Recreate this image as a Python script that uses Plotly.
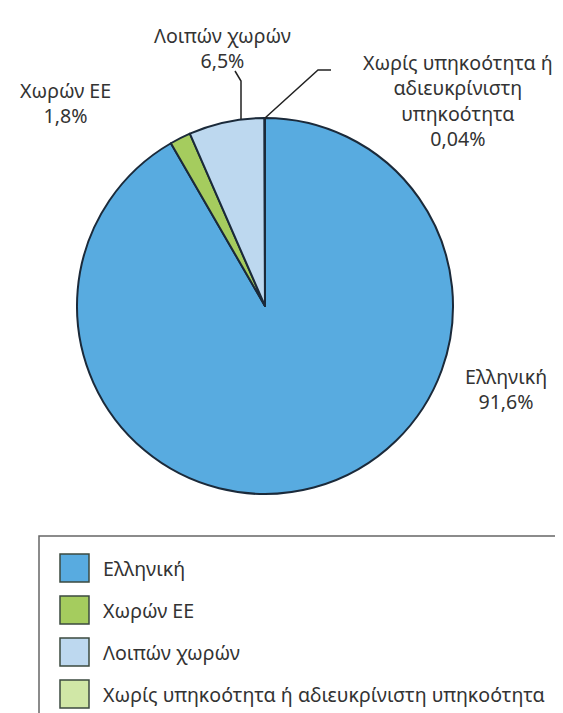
import plotly.graph_objects as go

# ---- data ----
labels = ["Ελληνική", "Χωρών ΕΕ", "Λοιπών χωρών", "Χωρίς υπηκοότητα ή αδιευκρίνιστη υπηκοότητα"]
values = [91.6, 1.8, 6.5, 0.04]
value_text = ["91,6%", "1,8%", "6,5%", "0,04%"]
label_text = ["Ελληνική", "Χωρών ΕΕ", "Λοιπών χωρών", "Χωρίς υπηκοότητα ή<br>αδιευκρίνιστη<br>υπηκοότητα"]
colors = ["#58ABE0", "#A5CC5E", "#BDD8EF", "#D0E7A6"]

W, H = 563, 713
FONT = "Noto Sans"
TXT = "#333333"
FS = 19.6


def px(x):
    return x / W


def py(y):
    return 1 - y / H


cx, cy, r = 257, 298, 188

fig = go.Figure()
fig.add_trace(go.Pie(
    labels=labels,
    values=values,
    sort=False,
    direction="clockwise",
    rotation=0,
    textinfo="none",
    hoverinfo="label+percent",
    showlegend=False,
    marker=dict(colors=colors, line=dict(color="#1B2A3A", width=2)),
    domain=dict(x=[px(cx - r), px(cx + r)], y=[py(cy + r), py(cy - r)]),
))

annotations = []
shapes = []

# slice labels (position of each label block in pixels)
label_pos = [(498, 381), (57, 95), (215, 40), (450, 92)]
for i in range(len(labels)):
    x, y = label_pos[i]
    annotations.append(dict(
        x=px(x), y=py(y), xref="paper", yref="paper",
        text=f"{label_text[i]}<br>{value_text[i]}",
        showarrow=False, xanchor="center", yanchor="middle",
        font=dict(family=FONT, size=FS, color=TXT),
    ))

# leader lines
def path(points):
    d = "M " + " L ".join(f"{px(a)},{py(b)}" for a, b in points)
    return dict(type="path", path=d, xref="paper", yref="paper",
                line=dict(color="#222222", width=1.5))

shapes.append(path([(227, 63), (233, 73), (233, 111)]))
shapes.append(path([(257, 110), (310, 62), (323, 62)]))

# legend box
shapes.append(dict(type="rect", xref="paper", yref="paper",
                   x0=px(31), x1=px(561), y0=py(528), y1=py(720),
                   line=dict(color="#666666", width=1.5), fillcolor="rgba(0,0,0,0)"))
for i, name in enumerate(labels):
    yc = 560 + 42 * i
    shapes.append(dict(type="rect", xref="paper", yref="paper",
                       x0=px(52), x1=px(81), y0=py(yc + 14), y1=py(yc - 14),
                       line=dict(color="#3B4A3F", width=1.5), fillcolor=colors[i]))
    annotations.append(dict(
        x=px(93), y=py(yc), xref="paper", yref="paper", text=name,
        showarrow=False, xanchor="left", yanchor="middle",
        font=dict(family=FONT, size=FS, color=TXT),
    ))

fig.update_layout(
    width=W, height=H,
    margin=dict(l=0, r=0, t=0, b=0),
    paper_bgcolor="white", plot_bgcolor="white",
    annotations=annotations, shapes=shapes,
)

fig.write_html("out.html")
